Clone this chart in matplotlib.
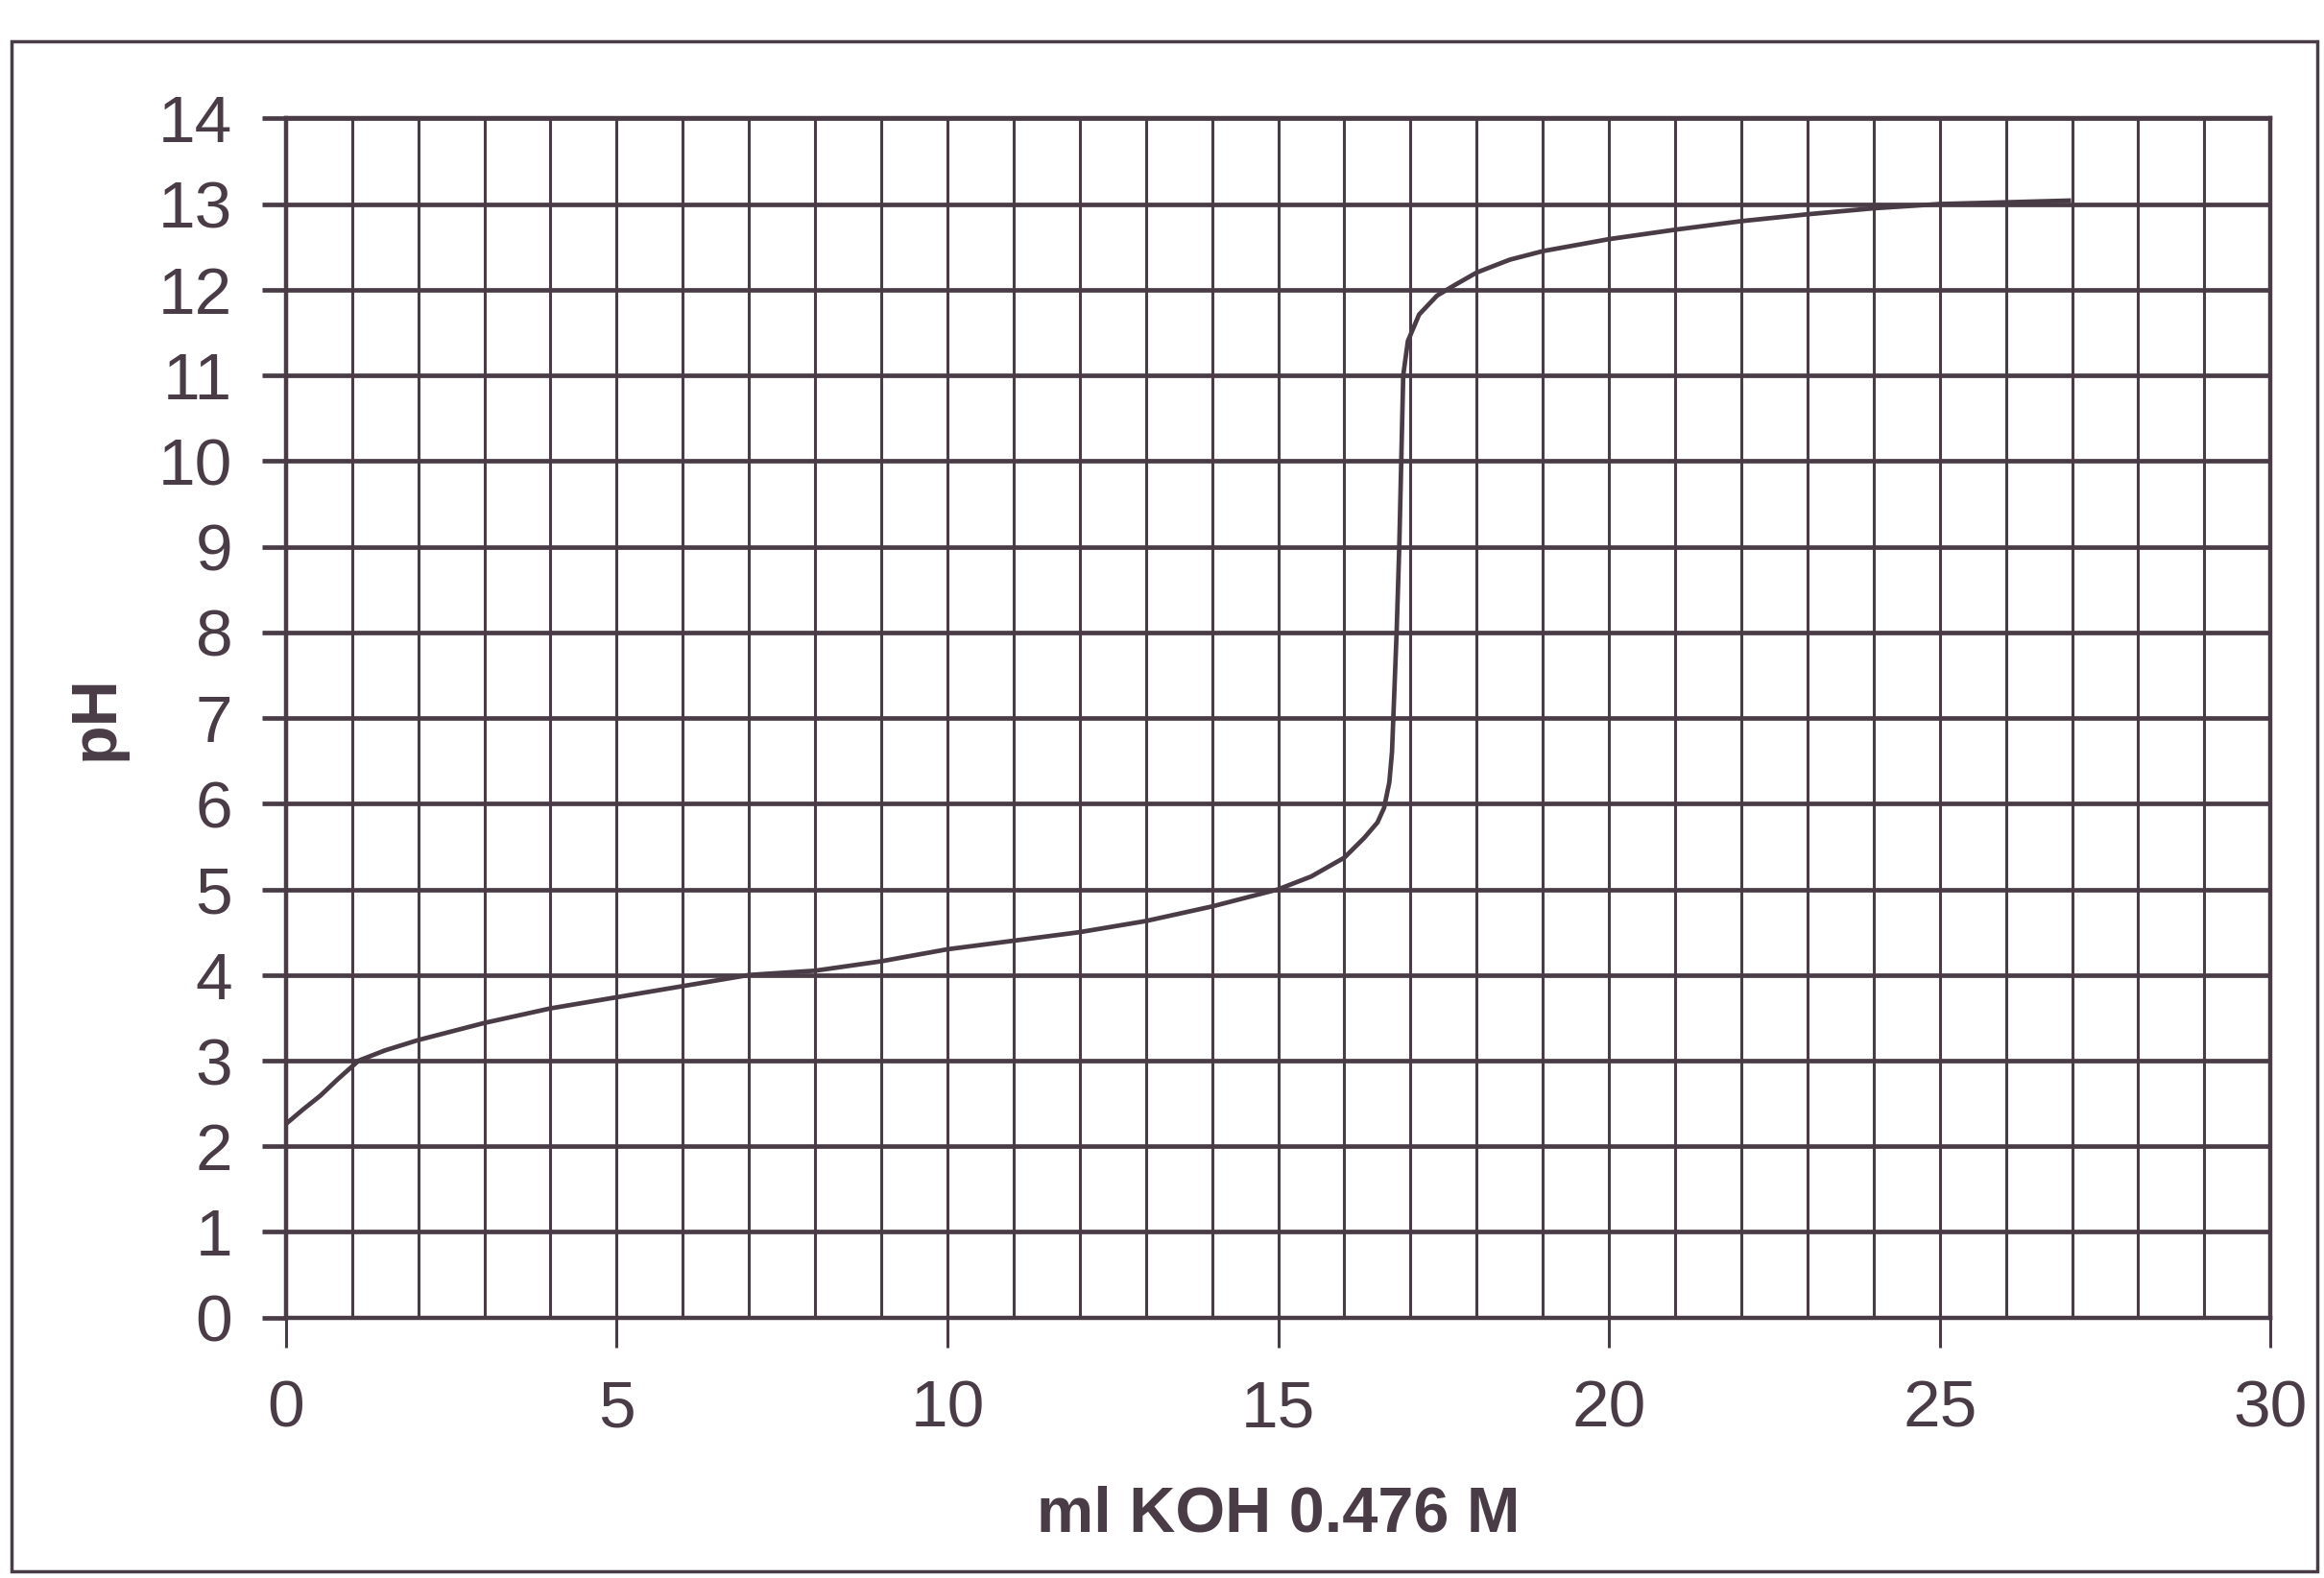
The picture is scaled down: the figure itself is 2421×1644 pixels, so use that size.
import matplotlib.pyplot as plt
from matplotlib.patches import Rectangle

# titration curve
ml_koh = [0, 0.26, 0.52, 0.78, 1.1, 1.5, 2, 3, 4, 5, 6, 7, 8, 9, 10, 11, 12, 13,
          14, 15, 15.5, 16, 16.3, 16.5, 16.6, 16.68, 16.72, 16.74, 16.79, 16.83,
          16.86, 16.89, 16.96, 17.13, 17.4, 17.66, 18, 18.5, 19, 20, 21, 22, 23,
          24, 25, 26, 26.95]
ph = [2.26, 2.43, 2.59, 2.78, 3.0, 3.12, 3.24, 3.44, 3.61, 3.74, 3.87, 4.0,
      4.05, 4.16, 4.3, 4.4, 4.5, 4.63, 4.8, 5.0, 5.15, 5.37, 5.6, 5.78, 5.95,
      6.25, 6.6, 7.0, 8.0, 9.0, 10.0, 11.0, 11.4, 11.71, 11.93, 12.05, 12.2,
      12.35, 12.45, 12.59, 12.7, 12.8, 12.88, 12.95, 13.0, 13.02, 13.04]

x_ticks = [0, 5, 10, 15, 20, 25, 30]
y_ticks = list(range(0, 15))

ink = '#4a3c46'
plt.rcParams['font.family'] = ['Liberation Sans', 'DejaVu Sans']

fig = plt.figure(figsize=(24.21, 16.44), dpi=100)
ax = fig.add_axes([0.123, 0.165, 0.854, 0.76])

# outer frame around the whole chart
fig.patches.append(Rectangle((0.005, 0.004), 0.992, 0.97, transform=fig.transFigure,
                             fill=False, edgecolor=ink, linewidth=2.5))

ax.plot(ml_koh, ph, color=ink, linewidth=3.4, zorder=3)

ax.set_xlim(0, 30)
ax.set_ylim(0, 14)
ax.set_xticks(x_ticks)
ax.set_xticks(range(0, 31), minor=True)
ax.set_yticks(y_ticks)

ax.grid(True, which='both', axis='x', color=ink, linewidth=2.2)
ax.grid(True, which='major', axis='y', color=ink, linewidth=3.4)

ax.tick_params(axis='x', which='major', length=22, width=2.2, color=ink,
               labelsize=50, labelcolor=ink, pad=24)
ax.tick_params(axis='x', which='minor', length=0)
ax.tick_params(axis='y', which='major', length=18, width=3.4, color=ink,
               labelsize=50, labelcolor=ink, pad=22)

for s in ax.spines.values():
    s.set_color(ink)
    s.set_linewidth(3.2)

ax.set_xlabel('ml KOH 0.476 M', fontsize=48, fontweight='bold', color=ink, labelpad=34)
ax.set_ylabel('pH', fontsize=48, fontweight='bold', color=ink, labelpad=24)

fig.savefig('out.png', dpi=100, facecolor='white')
